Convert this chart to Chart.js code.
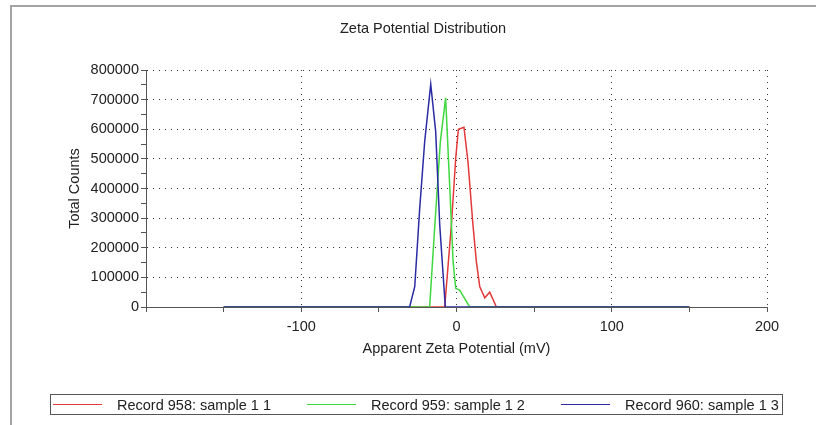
<!DOCTYPE html>
<html>
<head>
<meta charset="utf-8">
<script src="https://cdn.jsdelivr.net/npm/chart.js@4.4.1/dist/chart.umd.min.js"></script>
<style>
  html, body { margin: 0; padding: 0; background: #fff; }
  body { width: 816px; height: 425px; position: relative; overflow: hidden; font-family: "Liberation Sans", Arial, sans-serif; }
  #frame { position: absolute; left: 10px; top: 5px; right: -4px; bottom: -4px; border-top: 2px solid #a3a3a3; border-left: 2px solid #a3a3a3; }
  #zeta { position: absolute; left: 0; top: 0; }
  #legend { position: absolute; left: 50px; top: 394px; width: 733px; height: 21px; box-sizing: border-box;
            border: 1px solid #555; display: flex; align-items: center; padding-left: 2px; }
  .item { display: flex; align-items: center; margin-right: 36px; }
  .swatch { width: 49px; height: 0; border-top: 1px solid; margin-right: 15px; }
  .label { font-size: 14.5px; color: #222; white-space: nowrap; }
</style>
</head>
<body>
<div id="frame"></div>
<canvas id="zeta" width="816" height="425"></canvas>
<div id="legend"></div>
<script>
const seriesLabels = ['Record 958: sample 1 1', 'Record 959: sample 1 2', 'Record 960: sample 1 3'];
const seriesColors = ['#e23a3a', '#3fd83f', '#2b2ba6'];

// apparent zeta potential (mV) / total counts per record
const rec958X = [-150, -7.6, -3.3, -0.5, 1.2, 4.8, 7.4, 10.6, 12.8, 15, 18.2, 21.4, 25.7, 150];
const rec958Y = [0, 0, 277000, 502000, 600000, 607000, 490000, 277000, 153000, 68000, 31000, 50000, 0, 0];

const rec959X = [-150, -17.3, -13.9, -10.4, -7, -4.4, -2.2, -0.5, 2, 8.5, 150];
const rec959Y = [0, 0, 280000, 558000, 706000, 412000, 153000, 63000, 57000, 0, 0];

const rec960X = [-150, -30.2, -26.9, -23.7, -20.5, -16.6, -13.4, -10.8, -7.2, 150];
const rec960Y = [0, 0, 68500, 333000, 558000, 752000, 592000, 277000, 0, 0];

const xTickLabels = [-100, 0, 100, 200];
const yTickLabels = [0, 100000, 200000, 300000, 400000, 500000, 600000, 700000, 800000];

const toPoints = (xs, ys) => xs.map((x, i) => ({ x, y: ys[i] }));
const seriesPoints = [toPoints(rec958X, rec958Y), toPoints(rec959X, rec959Y), toPoints(rec960X, rec960Y)];

const font = { family: '"Liberation Sans", Arial, sans-serif', size: 14.5 };
const dotColor = '#333';
const axisColor = '#555';

const chart = new Chart(document.getElementById('zeta'), {
  type: 'line',
  data: {
    datasets: seriesLabels.map((label, i) => ({
      label,
      data: seriesPoints[i],
      borderColor: seriesColors[i],
      backgroundColor: seriesColors[i],
      borderWidth: 1.5,
      pointRadius: 0,
      tension: 0,
      fill: false,
      order: 3 - i,
    })),
  },
  options: {
    responsive: false,
    animation: false,
    devicePixelRatio: 1,
    layout: { padding: { left: 79, right: 49, top: 0, bottom: 63 } },
    plugins: {
      legend: { display: false },
      tooltip: { enabled: false },
      title: {
        display: true,
        text: 'Zeta Potential Distribution',
        color: '#222',
        font: { ...font, weight: 'normal' },
        padding: { top: 20, bottom: 32.6 },
      },
    },
    scales: {
      x: {
        type: 'linear',
        min: -200,
        max: 200,
        afterFit: (scale) => { scale.height = 55; },
        ticks: {
          stepSize: 50,
          autoSkip: false,
          maxRotation: 0,
          padding: 6,
          color: '#222',
          font,
          callback: (v) => (xTickLabels.includes(v) ? String(v) : ''),
        },
        grid: {
          color: (ctx) => (ctx.tick && xTickLabels.includes(ctx.tick.value) ? dotColor : 'rgba(0,0,0,0)'),
          tickColor: axisColor,
          tickLength: 5,
          lineWidth: 1,
        },
        border: { color: axisColor, width: 1, dash: [1, 5] },
        title: {
          display: true,
          text: 'Apparent Zeta Potential (mV)',
          color: '#222',
          font,
        },
      },
      y: {
        min: 0,
        max: 800000,
        afterFit: (scale) => { scale.width = 67; },
        ticks: {
          stepSize: 50000,
          autoSkip: false,
          padding: 2,
          color: '#222',
          font,
          callback: (v) => (yTickLabels.includes(v) ? String(v) : ''),
        },
        grid: {
          color: (ctx) => (ctx.tick && ctx.tick.value !== 0 && yTickLabels.includes(ctx.tick.value) ? dotColor : 'rgba(0,0,0,0)'),
          tickColor: axisColor,
          tickLength: 5,
          lineWidth: 1,
        },
        border: { color: axisColor, width: 1, dash: [1, 5] },
        title: {
          display: true,
          text: 'Total Counts',
          color: '#222',
          font,
          padding: { top: -12.7, bottom: 0 },
        },
      },
    },
  },
});

const legendEl = document.getElementById('legend');
chart.data.datasets.forEach((ds) => {
  const item = document.createElement('div');
  item.className = 'item';
  const swatch = document.createElement('span');
  swatch.className = 'swatch';
  swatch.style.borderTopColor = ds.borderColor;
  const label = document.createElement('span');
  label.className = 'label';
  label.textContent = ds.label;
  item.appendChild(swatch);
  item.appendChild(label);
  legendEl.appendChild(item);
});
</script>
</body>
</html>
